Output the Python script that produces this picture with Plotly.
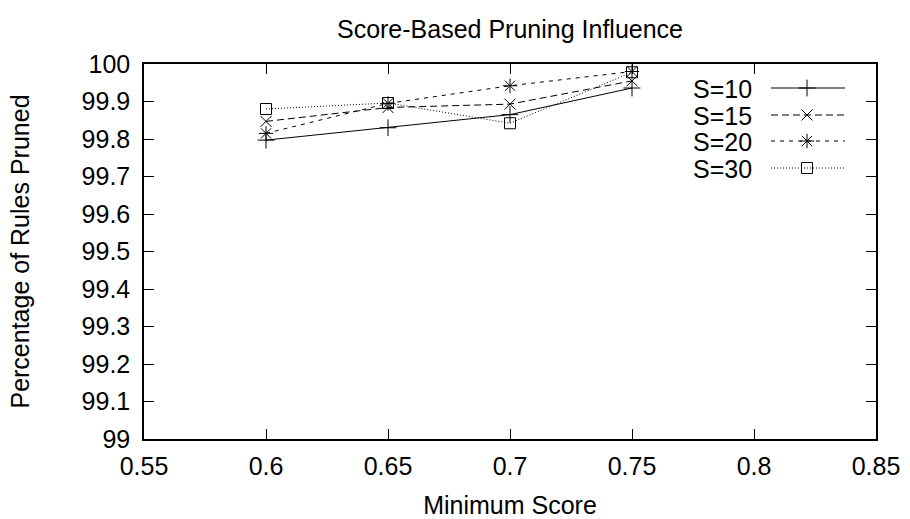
import plotly.graph_objects as go

# ---- data ----
min_score = [0.6, 0.65, 0.7, 0.75]
series_names = ["S=10", "S=15", "S=20", "S=30"]
s10 = [99.797, 99.830, 99.865, 99.936]
s15 = [99.847, 99.884, 99.893, 99.955]
s20 = [99.815, 99.895, 99.942, 99.980]
s30 = [99.880, 99.896, 99.842, 99.978]
series_values = [s10, s15, s20, s30]
x_ticks = [0.55, 0.6, 0.65, 0.7, 0.75, 0.8, 0.85]
x_tick_labels = ["0.55", "0.6", "0.65", "0.7", "0.75", "0.8", "0.85"]
y_ticks = [99.0, 99.1, 99.2, 99.3, 99.4, 99.5, 99.6, 99.7, 99.8, 99.9, 100.0]
y_tick_labels = ["99", "99.1", "99.2", "99.3", "99.4", "99.5", "99.6", "99.7", "99.8", "99.9", "100"]

# ---- styles ----
symbols = ["cross-thin-open", "x-thin-open", "asterisk-open", "square-open"]
dashes = ["solid", "7px,4px", "4px,5px", "1px,2px"]
msizes = [12, 11, 12, 11]
FONT = "Liberation Sans, Arial, sans-serif"
FS = 25

W, H = 910, 519
L, R, T, B = 144, 34, 64, 80

fig = go.Figure()
for name, vals, sym, dash, ms in zip(series_names, series_values, symbols, dashes, msizes):
    fig.add_trace(go.Scatter(
        x=min_score, y=vals, mode="lines+markers", name=name,
        line=dict(color="black", width=1, dash=dash),
        marker=dict(symbol=sym, size=ms, color="black", line=dict(color="black", width=1)),
        showlegend=False,
    ))

# custom gnuplot-style key (text left, sample right) on an overlay pixel axis
key_rows = [88, 115, 141, 168]
key_text_x = 753
key_line = (771, 845)
for name, sym, dash, ms, ky in zip(series_names, symbols, dashes, msizes, key_rows):
    fig.add_trace(go.Scatter(
        x=[key_line[0], key_line[1]], y=[ky, ky], mode="lines",
        line=dict(color="black", width=1, dash=dash),
        xaxis="x2", yaxis="y2", showlegend=False, hoverinfo="skip"))
    fig.add_trace(go.Scatter(
        x=[807], y=[ky], mode="markers",
        marker=dict(symbol=sym, size=ms, color="black", line=dict(color="black", width=1)),
        xaxis="x2", yaxis="y2", showlegend=False, hoverinfo="skip"))
    fig.add_annotation(x=key_text_x, y=ky, xref="x2", yref="y2", text=name,
                       showarrow=False, xanchor="right", yanchor="middle",
                       height=25, valign="middle", borderpad=0,
                       font=dict(family=FONT, size=FS, color="black"))

axis_common = dict(
    showgrid=False, zeroline=False, showline=True, linecolor="black", linewidth=1.5,
    mirror="allticks", ticks="inside", ticklen=10, tickwidth=1, tickcolor="black",
    tickfont=dict(family=FONT, size=FS, color="black"), automargin=False,
)

fig.update_layout(
    width=W, height=H,
    margin=dict(l=L, r=R, t=T, b=B),
    paper_bgcolor="white", plot_bgcolor="white",
    title=dict(text="Score-Based Pruning Influence", x=(L + (W - R)) / 2 / W, xanchor="center",
               y=1 - 29 / H, yanchor="middle",
               font=dict(family=FONT, size=FS, color="black")),
    xaxis=dict(range=[0.55, 0.85], tickvals=x_ticks, ticktext=x_tick_labels, ticklabelstandoff=4,
               title=dict(text="Minimum Score", font=dict(family=FONT, size=FS, color="black"), standoff=18),
               **axis_common),
    yaxis=dict(range=[99.0, 100.0], tickvals=y_ticks, ticktext=y_tick_labels, ticklabelstandoff=7,
               title=dict(text="Percentage of Rules Pruned", font=dict(family=FONT, size=FS, color="black"), standoff=45),
               **axis_common),
    xaxis2=dict(range=[L, W - R], overlaying="x", visible=False, fixedrange=True),
    yaxis2=dict(range=[H - B, T], overlaying="y", visible=False, fixedrange=True),
    showlegend=False,
)

fig.write_html("out.html")
